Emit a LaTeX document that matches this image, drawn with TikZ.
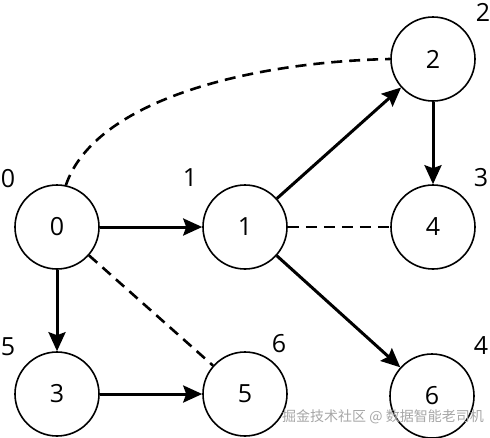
\documentclass[tikz,border=0pt]{standalone}
\usepackage{fontspec}
\setmainfont{Open Sans}
\newfontfamily\cjk{Noto Sans CJK SC}
\usetikzlibrary{arrows.meta}
\begin{document}
\begin{tikzpicture}[x=1pt,y=-1pt,
  vertex/.style={circle,draw,line width=1.6pt,minimum size=84pt,inner sep=0pt,font=\fontsize{25}{25}\selectfont},
  lbl/.style={font=\fontsize{25}{25}\selectfont,inner sep=0pt},
  arr/.style={line width=3pt,-{Stealth[length=19pt,width=17pt,inset=3pt]}},
  dsh/.style={line width=2.6pt,dash pattern=on 11pt off 7pt}]
\useasboundingbox (0,0) rectangle (490,437);
\node[vertex] (n0) at (57,227) {0};
\node[vertex] (n1) at (245,227) {1};
\node[vertex] (n2) at (433,59) {2};
\node[vertex] (n4) at (433,227) {4};
\node[vertex] (n3) at (57,394) {3};
\node[vertex] (n5) at (245,394) {5};
\node[vertex] (n6) at (432,396) {6};
\node[lbl] (l0) at (8,179) {0};
\node[lbl] (l1) at (190,178) {1};
\node[lbl] (l2) at (483,12) {2};
\node[lbl] (l3) at (481,178) {3};
\node[lbl] (l5) at (8,347) {5};
\node[lbl] (l6) at (279,344) {6};
\node[lbl] (l4) at (481,346) {4};
\draw[arr] (n0) -- (n1);
\draw[arr] (n0) -- (n3);
\draw[arr] (n1) -- (n2);
\draw[arr] (n1) -- (n6);
\draw[arr] (n2) -- (n4);
\draw[arr] (n3) -- (n5);
\draw[dsh] (n0) -- (n5);
\draw[dsh] (n1) -- (n4);
\draw[dsh] (n0.78) .. controls (95,100) and (250,62) .. (n2.west);
\node[inner sep=0pt,text=black!35,font=\cjk\fontsize{14}{14}\selectfont] (wm) at (383,417) {掘金技术社区 @ 数据智能老司机};
\end{tikzpicture}
\end{document}
